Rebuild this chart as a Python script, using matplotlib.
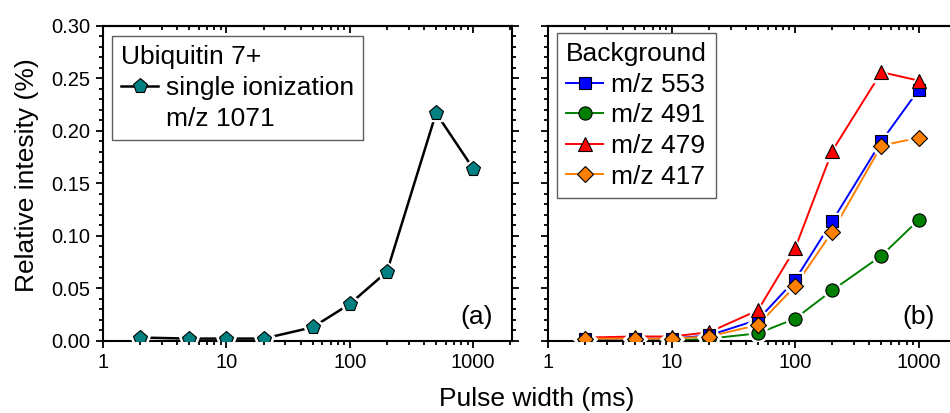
import matplotlib
matplotlib.use('Agg')
from matplotlib import pyplot as plt
from matplotlib.lines import Line2D
from matplotlib.ticker import MultipleLocator, LogLocator, NullFormatter, FixedLocator

plt.rcParams['font.family'] = ['Liberation Sans', 'DejaVu Sans']

# pulse widths (ms)
pulse = [2, 5, 10, 20, 50, 100, 200, 500, 1000]

# panel (a): ubiquitin 7+ single ionization
ubq_1071 = [0.003, 0.002, 0.002, 0.002, 0.0128, 0.035, 0.0658, 0.217, 0.164]

# panel (b): background ions
bg_553 = [0.002, 0.002, 0.002, 0.005, 0.020, 0.058, 0.114, 0.190, 0.239]
bg_491 = [0.000, 0.000, 0.000, 0.002, 0.007, 0.021, 0.048, 0.081, 0.115]
bg_479 = [0.003, 0.004, 0.004, 0.008, 0.029, 0.088, 0.181, 0.256, 0.248]
bg_417 = [0.002, 0.002, 0.002, 0.004, 0.015, 0.052, 0.104, 0.186, 0.1935]

bg_series = [
    ('m/z 553', bg_553, '#0000ff', 's', 8),
    ('m/z 491', bg_491, '#008000', 'o', 9.5),
    ('m/z 479', bg_479, '#ff0000', '^', 10.5),
    ('m/z 417', bg_417, '#ff8000', 'D', 8.5),
]

TICK_FS = 14.5
LABEL_FS = 19


def style_axes(ax, right_inward):
    ax.set_xscale('log')
    ax.set_xlim(1, 2050)
    ax.set_ylim(0, 0.30)
    ax.yaxis.set_major_locator(MultipleLocator(0.05))
    ax.yaxis.set_minor_locator(MultipleLocator(0.01))
    ax.xaxis.set_major_locator(FixedLocator([1, 10, 100, 1000]))
    ax.xaxis.set_minor_locator(LogLocator(base=10, subs=range(2, 10)))
    ax.xaxis.set_minor_formatter(NullFormatter())
    ax.set_xticklabels(['1', '10', '100', '1000'])
    for sp in ax.spines.values():
        sp.set_linewidth(1.5)
    ax.tick_params(which='both', direction='out', width=1.3, labelsize=TICK_FS,
                   pad=4, right=not right_inward)
    ax.tick_params(which='major', length=5)
    ax.tick_params(which='minor', length=3)
    # top ticks point inward
    top = ax.secondary_xaxis('top')
    top.xaxis.set_major_locator(FixedLocator([1, 10, 100, 1000]))
    top.xaxis.set_minor_locator(LogLocator(base=10, subs=range(2, 10)))
    top.tick_params(which='both', direction='in', width=1.3, labeltop=False)
    top.tick_params(which='major', length=5)
    top.tick_params(which='minor', length=3)
    top.spines['top'].set_linewidth(1.5)
    if right_inward:
        rgt = ax.secondary_yaxis('right')
        rgt.yaxis.set_major_locator(MultipleLocator(0.05))
        rgt.yaxis.set_minor_locator(MultipleLocator(0.01))
        rgt.tick_params(which='both', direction='in', width=1.3, labelright=False)
        rgt.tick_params(which='major', length=5)
        rgt.tick_params(which='minor', length=3)


def plot_gapped(ax, series, lw):
    # lines first, then white halos (gap round markers), then markers
    for i, (x, y, lcol, mcol, mk, ms) in enumerate(series):
        ax.plot(x, y, color=lcol, lw=lw, zorder=2 + i * 0.01)
    for i, (x, y, lcol, mcol, mk, ms) in enumerate(series):
        ax.plot(x, y, ls='none', marker=mk, ms=ms + 3.5, color='white',
                mec='white', zorder=3 + i * 0.01)
    for i, (x, y, lcol, mcol, mk, ms) in enumerate(series):
        ax.plot(x, y, ls='none', marker=mk, ms=ms, color=mcol, mec='black',
                mew=0.8, zorder=4 + i * 0.01)


leg_kw = dict(loc='upper left', fontsize=LABEL_FS, title_fontsize=LABEL_FS,
              alignment='left', frameon=True, fancybox=False,
              edgecolor='#333333', borderpad=0.35, labelspacing=0.25,
              handlelength=1.4, handletextpad=0.3, borderaxespad=0)

fig = plt.figure(figsize=(9.5, 4.13), dpi=100)
ax_a = fig.add_axes([103 / 950, 1 - 340.7 / 413, 408.7 / 950, 314.7 / 413])
ax_b = fig.add_axes([548.3 / 950, 1 - 340.7 / 413, 408.7 / 950, 314.7 / 413])

# panel (a)
style_axes(ax_a, right_inward=False)
plot_gapped(ax_a, [(pulse, ubq_1071, 'black', '#008080', 'p', 11)], 1.8)
h_a = [Line2D([], [], color='black', lw=1.8, marker='p', ms=11,
              mfc='#008080', mec='black', mew=0.8),
       Line2D([], [], ls='none')]
leg_a = ax_a.legend(h_a, ['single ionization', 'm/z 1071'], title='Ubiquitin 7+',
                    bbox_to_anchor=(0.022, 0.968), **leg_kw)
leg_a.get_frame().set_linewidth(1.0)
ax_a.text(0.955, 0.076, '(a)', transform=ax_a.transAxes, ha='right',
          va='center', fontsize=LABEL_FS)

# panel (b)
style_axes(ax_b, right_inward=True)
ax_b.tick_params(labelleft=False)
plot_gapped(ax_b, [(pulse, vals, col, col, mk, ms)
                   for name, vals, col, mk, ms in bg_series], 1.4)
handles_b = [Line2D([], [], color=col, lw=1.4, marker=mk, ms=ms, mfc=col,
                    mec='black', mew=0.8)
             for name, vals, col, mk, ms in bg_series]
leg_b = ax_b.legend(handles_b, [s[0] for s in bg_series], title='Background',
                    bbox_to_anchor=(0.021, 0.978), **leg_kw)
leg_b.get_frame().set_linewidth(1.0)
ax_b.text(0.946, 0.076, '(b)', transform=ax_b.transAxes, ha='right',
          va='center', fontsize=LABEL_FS)

fig.text(27 / 950, 1 - 175 / 413, 'Relative intesity (%)', rotation=90,
         ha='center', va='center', fontsize=LABEL_FS)
fig.text(537 / 950, 1 - 399 / 413, 'Pulse width (ms)', ha='center',
         va='center', fontsize=LABEL_FS)

fig.savefig('out.png', dpi=100)
